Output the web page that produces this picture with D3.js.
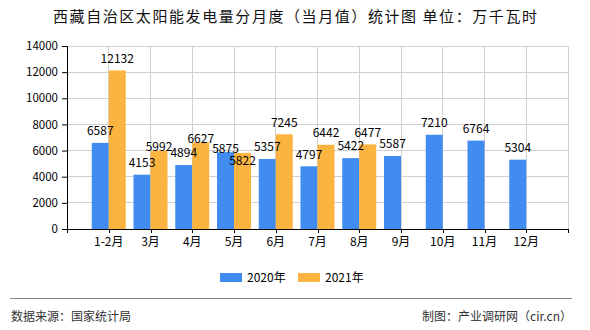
<!DOCTYPE html>
<html><head><meta charset="utf-8">
<script src="https://cdn.jsdelivr.net/npm/d3@7"></script>
<style>
body{margin:0;background:#fff;}
svg text{font-family:"Noto Sans CJK SC","Noto Sans",sans-serif;}
</style></head>
<body><svg id="c" width="590" height="330"></svg>
<script>
const categories = ["1-2月","3月","4月","5月","6月","7月","8月","9月","10月","11月","12月"];
const seriesNames = ["2020年","2021年"];
const values2020 = [6587,4153,4894,5875,5357,4797,5422,5587,7210,6764,5304];
const values2021 = [12132,5992,6627,5822,7245,6442,6477,null,null,null,null];
const yTicks = [0,2000,4000,6000,8000,10000,12000,14000];
const colors = ["#418cf0","#fcb441"];

const svg = d3.select("#c");
const L=67,R=568,T=46,B=229;
const step=(R-L)/12;

// category slots: each category centred on a gridline, one extra slot at the right end
const slots = categories.concat(["__end"]);
const x = d3.scaleBand().domain(slots).range([L+step/2, R+step/2]).paddingInner(0).paddingOuter(0);
const bw = x.bandwidth();
const x1 = d3.scaleBand().domain(seriesNames).range([bw/2-17, bw/2+17]);
const y = d3.scaleLinear().domain([0,14000]).range([B,T]);
const cx = c => x(c)+bw/2;

// title
svg.append("text").attr("x",53).attr("y",21.5)
  .attr("font-size",15).attr("fill","#111")
  .attr("textLength",484).attr("lengthAdjust","spacing")
  .text("西藏自治区太阳能发电量分月度（当月值）统计图 单位：万千瓦时");

// grid
const gridX = [L].concat(categories.map(cx)).concat([R]);
svg.append("g").selectAll("line").data(yTicks.filter(d=>d>0)).join("line")
  .attr("x1",L).attr("x2",R).attr("y1",d=>y(d)).attr("y2",d=>y(d))
  .attr("stroke","#d0d0d0").attr("stroke-width",1).attr("shape-rendering","crispEdges");
svg.append("g").selectAll("line").data(gridX.slice(1)).join("line")
  .attr("x1",d=>d).attr("x2",d=>d).attr("y1",T).attr("y2",B)
  .attr("stroke","#d0d0d0").attr("stroke-width",1).attr("shape-rendering","crispEdges");

// bars
const rows = categories.map((c,i)=>({c, v:[values2020[i],values2021[i]]}));
const bars=[];
rows.forEach(r=>r.v.forEach((v,j)=>{ if(v!=null) bars.push({c:r.c,s:seriesNames[j],v,j}); }));
svg.append("g").selectAll("rect").data(bars).join("rect")
  .attr("x",d=>x(d.c)+x1(d.s)).attr("width",x1.bandwidth())
  .attr("y",d=>y(d.v)).attr("height",d=>B-y(d.v))
  .attr("fill",d=>colors[d.j]);

// label nudges (collision avoidance in the original)
const nudge = {"2021年|3月":8,"2021年|4月":8,"2020年|5月":8,"2021年|5月":20};
svg.append("g").selectAll("text").data(bars).join("text")
  .attr("x",d=>x(d.c)+x1(d.s)+x1.bandwidth()/2)
  .attr("y",d=>y(d.v)-12+(nudge[d.s+"|"+d.c]||0))
  .attr("dy","0.36em").attr("text-anchor","middle").attr("font-size",12).attr("fill","#000")
  .text(d=>d.v);

// y axis
const yAxis = d3.axisLeft(y).tickValues(yTicks).tickSize(5).tickFormat(d3.format("d"));
const gy = svg.append("g").attr("transform",`translate(${L},0)`).call(yAxis);
gy.select(".domain").attr("stroke","#000");
gy.selectAll(".tick line").attr("stroke","#000");
gy.selectAll(".tick text").attr("font-size",11.5).attr("fill","#000").attr("x",-9);
gy.attr("font-family",null);

// x axis
svg.append("line").attr("x1",L).attr("x2",R+0.5).attr("y1",B+0.5).attr("y2",B+0.5).attr("stroke","#000");
svg.append("g").selectAll("line").data(gridX).join("line")
  .attr("x1",d=>Math.round(d)+0.5).attr("x2",d=>Math.round(d)+0.5).attr("y1",B).attr("y2",B+4).attr("stroke","#000");
svg.append("g").selectAll("text").data(categories).join("text")
  .attr("x",cx).attr("y",242).attr("dy","0.36em").attr("text-anchor","middle")
  .attr("font-size",12).attr("fill","#000").text(d=>d);

// legend
const lg = svg.append("g");
const lx=[220,298];
seriesNames.forEach((s,i)=>{
  lg.append("rect").attr("x",lx[i]).attr("y",273).attr("width",22).attr("height",9).attr("fill",colors[i]);
  lg.append("text").attr("x",lx[i]+27).attr("y",278).attr("dy","0.36em").attr("font-size",12).attr("fill","#000").text(s);
});

// footer
svg.append("line").attr("x1",10).attr("x2",572).attr("y1",298.5).attr("y2",298.5).attr("stroke","#888");
svg.append("text").attr("x",11).attr("y",317).attr("dy","0.36em").attr("font-size",12).attr("fill","#333").text("数据来源：国家统计局");
svg.append("text").attr("x",572).attr("y",317).attr("dy","0.36em").attr("text-anchor","end").attr("font-size",12).attr("fill","#333").text("制图：产业调研网（cir.cn）");
</script></body></html>
